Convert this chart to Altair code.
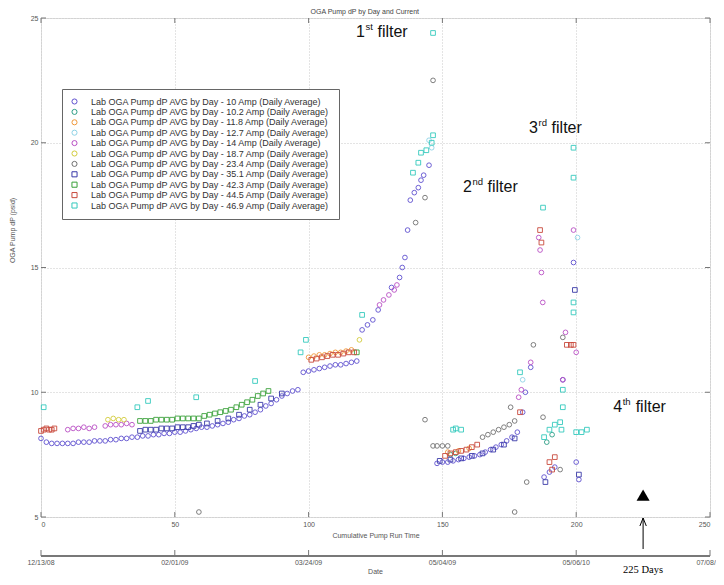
import altair as alt
import pandas as pd

# ---------------- data ----------------
series_labels = [
    "Lab OGA Pump dP AVG by Day - 10 Amp (Daily Average)",
    "Lab OGA Pump dP AVG by Day - 10.2 Amp (Daily Average)",
    "Lab OGA Pump dP AVG by Day - 11.8 Amp (Daily Average)",
    "Lab OGA Pump dP AVG by Day - 12.7 Amp (Daily Average)",
    "Lab OGA Pump dP AVG by Day - 14 Amp (Daily Average)",
    "Lab OGA Pump dP AVG by Day - 18.7 Amp (Daily Average)",
    "Lab OGA Pump dP AVG by Day - 23.4 Amp (Daily Average)",
    "Lab OGA Pump dP AVG by Day - 35.1 Amp (Daily Average)",
    "Lab OGA Pump dP AVG by Day - 42.3 Amp (Daily Average)",
    "Lab OGA Pump dP AVG by Day - 44.5 Amp (Daily Average)",
    "Lab OGA Pump dP AVG by Day - 46.9 Amp (Daily Average)",
]
series_colors = ["#5f50cf", "#2e9e86", "#f0983a", "#8fd3e6", "#b94fc4", "#d2cc3c",
                 "#707070", "#3a3aa8", "#3aa03a", "#c84a3c", "#34c9bd"]
series_shapes = ["circle"] * 7 + ["square"] * 4

a10_days = [0, 2, 4, 6, 8, 10, 12, 14, 16, 18, 20, 22, 24, 26, 28, 30, 32, 34, 36, 38,
            40, 42, 44, 46, 48, 50, 52, 54, 56, 58, 60, 62, 64, 66, 68, 70, 72, 74, 76, 78,
            80, 82, 84, 86, 88, 90, 92, 94, 96,
            98, 100, 102, 104, 106, 108, 110, 112, 114, 116, 118,
            120, 122, 124, 126, 131, 134, 135, 136, 137, 138, 139.5, 141, 142, 143, 145,
            148, 150, 152, 154, 156, 158, 160, 162, 164, 166, 168, 170, 172, 174, 176, 178,
            180, 181, 183, 188, 190, 192, 195, 199, 200, 201]
a10_vals = [8.15, 8.0, 7.95, 7.95, 7.95, 7.95, 7.95, 8.0, 8.0, 8.0, 8.05, 8.05, 8.05, 8.1, 8.1,
            8.15, 8.15, 8.2, 8.2, 8.25, 8.25, 8.3, 8.3, 8.35, 8.35, 8.4, 8.4, 8.45, 8.5, 8.55,
            8.6, 8.6, 8.65, 8.7, 8.75, 8.8, 8.9, 8.95, 9.05, 9.1, 9.2, 9.3, 9.45, 9.55, 9.7,
            9.85, 9.95, 10.05, 10.1,
            10.8, 10.85, 10.9, 10.95, 11.0, 11.05, 11.1, 11.1, 11.15, 11.2, 11.25,
            12.5, 12.7, 12.9, 13.3, 14.2, 14.6, 15.0, 15.4, 16.5, 17.7, 18.0, 18.2, 18.5, 18.7, 19.1,
            7.15, 7.2, 7.2, 7.25, 7.3, 7.35, 7.4, 7.45, 7.5, 7.6, 7.7, 7.8, 7.9, 8.05, 8.2, 8.4,
            9.2, 10.0, 11.0, 6.6, 6.8, 7.0, 10.5, 15.2, 7.2, 6.5]

a102_days = [153, 155, 189, 191]
a102_vals = [7.5, 7.55, 8.0, 8.3]

a118_days = [100, 102, 104, 106, 108, 110, 112, 114, 116, 152, 156, 160]
a118_vals = [11.4, 11.45, 11.5, 11.5, 11.55, 11.6, 11.6, 11.65, 11.7, 7.6, 7.65, 7.75]

a127_days = [145, 146, 180, 200.5]
a127_vals = [20.1, 19.8, 10.5, 16.2]

a14_days = [10, 12, 14, 16, 18, 20, 24, 26, 28, 30, 32, 34,
            126.5, 128, 130, 132, 133, 178.5, 179.5, 183, 186, 186.5, 187, 187.5,
            195, 196, 199, 200]
a14_vals = [8.5, 8.55, 8.55, 8.6, 8.55, 8.6, 8.65, 8.7, 8.7, 8.7, 8.75, 8.7,
            13.5, 13.7, 13.9, 14.1, 14.3, 9.8, 10.1, 11.2, 16.2, 15.7, 14.8, 13.6,
            10.5, 12.4, 16.5, 11.6]

a187_days = [25, 27, 29, 31, 119]
a187_vals = [8.9, 8.95, 8.9, 8.9, 12.1]

a234_days = [59, 177, 143.5, 140, 143.5, 146.5, 146.5, 148, 150, 152,
             165, 167, 169, 171, 173, 175, 177, 175.5, 181.5, 184, 187.6, 194, 195]
a234_vals = [5.2, 5.2, 8.9, 16.8, 17.8, 22.5, 7.85, 7.85, 7.85, 7.85,
             8.2, 8.3, 8.4, 8.5, 8.6, 8.7, 8.85, 9.4, 6.4, 11.9, 9.0, 6.9, 12.2]

a351_days = [37, 39, 41, 43, 45, 47, 49, 51, 53, 55, 57, 59, 62, 66, 70, 74, 78, 82, 86, 90,
             149, 153, 157, 161, 165, 169, 173, 177, 188.5, 199.5, 201]
a351_vals = [8.45, 8.5, 8.5, 8.5, 8.55, 8.55, 8.55, 8.6, 8.6, 8.6, 8.65, 8.7,
             8.75, 8.85, 8.95, 9.1, 9.3, 9.5, 9.75, 9.95,
             7.25, 7.3, 7.35, 7.45, 7.55, 7.7, 7.9, 8.15, 6.4, 14.1, 6.7]

a423_days = [37, 39, 41, 43, 45, 47, 49, 51, 53, 55, 57, 59, 61, 63, 65, 67, 69, 71, 73, 75,
             77, 79, 81, 83, 85, 118]
a423_vals = [8.85, 8.85, 8.85, 8.9, 8.9, 8.9, 8.9, 8.95, 8.95, 8.95, 8.95, 8.95, 9.05, 9.1,
             9.15, 9.2, 9.25, 9.3, 9.4, 9.5, 9.6, 9.7, 9.85, 9.95, 10.05, 11.6]

a445_days = [0, 1, 2, 3, 4, 5, 101, 103, 105, 107, 109, 111, 113, 115, 117,
             151, 153, 155, 157, 159, 161, 163, 179, 186.5, 187, 196.5, 198, 199, 190, 191, 192]
a445_vals = [8.45, 8.5, 8.55, 8.5, 8.5, 8.55, 11.3, 11.35, 11.4, 11.45, 11.5, 11.5, 11.55,
             11.6, 11.6, 7.45, 7.55, 7.6, 7.65, 7.7, 7.8, 7.9, 9.2, 16.5, 16.0, 11.9, 11.9,
             11.9, 7.2, 6.9, 7.4]

a469_days = [1, 36, 40, 58, 80, 97, 99, 120, 139, 141, 142, 144, 146, 146.5, 146.5,
             154, 155, 157, 179, 187.6, 188, 190, 192, 194, 199, 199, 199, 199,
             200, 202, 204, 195, 195, 194.5]
a469_vals = [9.4, 9.4, 9.65, 9.8, 10.45, 11.6, 12.1, 13.1, 18.8, 19.2, 19.6, 19.7, 20.0,
             20.3, 24.4, 8.5, 8.55, 8.5, 10.8, 17.4, 8.2, 8.5, 8.7, 8.8, 19.8, 18.6, 13.6,
             13.2, 8.4, 8.4, 8.5, 10.1, 9.4, 8.5]

run_ticks = [0, 50, 100, 150, 200, 250]
date_labels = ["12/13/08", "02/01/09", "03/24/09", "05/04/09", "05/06/10", "07/08/10"]
dp_ticks = [5, 10, 15, 20, 25]

filter_digits = ["1", "2", "3", "4"]
filter_sups = ["st", "nd", "rd", "th"]
filter_day = [117.7, 157.7, 182.4, 213.8]
filter_dp = [24.24, 18.03, 20.39, 9.21]

marker_day = [225]
marker_dp = [5.88]

chart_title = "OGA Pump dP by Day and Current"

# ---------------- build tables ----------------
all_days = [a10_days, a102_days, a118_days, a127_days, a14_days, a187_days,
            a234_days, a351_days, a423_days, a445_days, a469_days]
all_vals = [a10_vals, a102_vals, a118_vals, a127_vals, a14_vals, a187_vals,
            a234_vals, a351_vals, a423_vals, a445_vals, a469_vals]
rows = []
for name, ds, vs in zip(series_labels, all_days, all_vals):
    for d, v in zip(ds, vs):
        rows.append({"series": name, "day": d, "dp": v})
df = pd.DataFrame(rows)

PX_PER_DAY = 669 / 250.0
sup_w = {"st": 8, "nd": 11, "rd": 9, "th": 9}
annot = pd.DataFrame({
    "digit": filter_digits, "sup": filter_sups,
    "day": filter_day, "dp": filter_dp,
})
annot["sup_day"] = annot["day"] + 9.5 / PX_PER_DAY
annot["word_day"] = annot["day"] + annot["sup"].map(lambda s: (9.5 + sup_w[s] + 4) / PX_PER_DAY)
annot["word"] = "filter"

dates = pd.DataFrame({"day": run_ticks, "label": date_labels})
yt = pd.DataFrame({"dp": dp_ticks})
mk = pd.DataFrame({"day": marker_day, "dp": marker_dp, "txt": ["225 Days"]})
ttl = pd.DataFrame({"day": [121], "txt": [chart_title]})

FONT = "Liberation Sans"
GREY = "#555555"

xscale = alt.Scale(domain=[0, 250], nice=False, zero=False)
yscale = alt.Scale(domain=[5, 25], nice=False, zero=False)

legend = alt.Legend(orient="none", legendX=21, legendY=71, fillColor="white",
                    strokeColor="#666666", padding=8, labelFontSize=9, labelFont=FONT,
                    labelColor="#333333", symbolSize=26, symbolStrokeWidth=1,
                    labelLimit=500, rowPadding=-0.6, labelOffset=12)

points = alt.Chart(df).mark_point(filled=False, size=22, strokeWidth=0.9, opacity=1).encode(
    x=alt.X("day:Q", scale=xscale,
            axis=alt.Axis(values=run_ticks, title="Cumulative Pump Run Time", grid=True,
                          gridColor="#c8c8c8", gridDash=[1, 2], ticks=False, domain=False,
                          labelFontSize=7, labelColor=GREY, labelFont=FONT, labelPadding=3,
                          titleFontSize=7, titleFontWeight="normal", titleColor=GREY,
                          titleFont=FONT, titlePadding=4)),
    y=alt.Y("dp:Q", scale=yscale,
            axis=alt.Axis(values=dp_ticks, title="OGA Pump dP (psid)", grid=True,
                          gridColor="#c8c8c8", gridDash=[1, 2], ticks=False, domain=False,
                          labelFontSize=7, labelColor=GREY, labelFont=FONT, labelPadding=3,
                          titleFontSize=7, titleFontWeight="normal", titleColor=GREY,
                          titleFont=FONT, titleX=-26, titleY=212)),
    color=alt.Color("series:N", scale=alt.Scale(domain=series_labels, range=series_colors),
                    legend=legend, title=None),
    shape=alt.Shape("series:N", scale=alt.Scale(domain=series_labels, range=series_shapes),
                    legend=legend, title=None),
)

# inward ticks on all four sides
xt_bottom = alt.Chart(dates).mark_rule(color="#777777").encode(
    x=alt.X("day:Q", scale=xscale), y=alt.value(499), y2=alt.value(494))
xt_top = alt.Chart(dates).mark_rule(color="#777777").encode(
    x=alt.X("day:Q", scale=xscale), y=alt.value(0), y2=alt.value(5))
yt_left = alt.Chart(yt).mark_rule(color="#777777").encode(
    y=alt.Y("dp:Q", scale=yscale), x=alt.value(0), x2=alt.value(5))
yt_right = alt.Chart(yt).mark_rule(color="#777777").encode(
    y=alt.Y("dp:Q", scale=yscale), x=alt.value(669), x2=alt.value(664))

# chart title as text
title_text = alt.Chart(ttl).mark_text(fontSize=7, color="#444444", font=FONT,
                                      baseline="middle").encode(
    x=alt.X("day:Q", scale=xscale), y=alt.value(-6), text="txt:N")

# secondary date axis
date_line = alt.Chart(dates).mark_rule(color="#777777").encode(
    x=alt.datum(0), x2=alt.datum(250), y=alt.value(538))
date_ticks = alt.Chart(dates).mark_rule(color="#777777").encode(
    x=alt.X("day:Q", scale=xscale), y=alt.value(532), y2=alt.value(538))
date_text = alt.Chart(dates).mark_text(fontSize=7, color=GREY, font=FONT, baseline="top").encode(
    x=alt.X("day:Q", scale=xscale), y=alt.value(541), text="label:N")
date_title = alt.Chart(mk).mark_text(fontSize=7, color=GREY, font=FONT, baseline="top").encode(
    x=alt.datum(125), y=alt.value(550), text=alt.value("Date"))

# filter annotations
ann_digit = alt.Chart(annot).mark_text(fontSize=16, font=FONT, color="#111111", align="left",
                                        baseline="alphabetic").encode(
    x=alt.X("day:Q", scale=xscale), y=alt.Y("dp:Q", scale=yscale), text="digit:N")
ann_sup = alt.Chart(annot).mark_text(fontSize=9.5, font=FONT, color="#111111", align="left",
                                      baseline="alphabetic", dy=-7).encode(
    x=alt.X("sup_day:Q", scale=xscale), y=alt.Y("dp:Q", scale=yscale), text="sup:N")
ann_word = alt.Chart(annot).mark_text(fontSize=16, font=FONT, color="#111111", align="left",
                                       baseline="alphabetic").encode(
    x=alt.X("word_day:Q", scale=xscale), y=alt.Y("dp:Q", scale=yscale), text="word:N")

# 225 days marker
tri = alt.Chart(mk).mark_point(shape="triangle-up", filled=True, color="black", size=170,
                               opacity=1).encode(
    x=alt.X("day:Q", scale=xscale), y=alt.Y("dp:Q", scale=yscale))
arrow = alt.Chart(mk).mark_rule(color="black", strokeWidth=1).encode(
    x=alt.X("day:Q", scale=xscale), y=alt.value(500), y2=alt.value(531))
arrow_head = alt.Chart(mk).mark_point(shape="M-0.8,2 L0,0 L0.8,2", filled=False, color="black",
                                      size=64, strokeWidth=1, opacity=1).encode(
    x=alt.X("day:Q", scale=xscale), y=alt.value(500))
days_text = alt.Chart(mk).mark_text(fontSize=10.5, font="Liberation Serif", color="black",
                                     baseline="middle").encode(
    x=alt.X("day:Q", scale=xscale), y=alt.value(552), text="txt:N")

chart = alt.layer(
    xt_bottom, xt_top, yt_left, yt_right,
    points, title_text,
    date_line, date_ticks, date_text, date_title,
    ann_digit, ann_sup, ann_word,
    tri, arrow, arrow_head, days_text,
).properties(
    width=669, height=499,
    padding={"left": 33, "top": 10, "right": 6, "bottom": 60},
    autosize=alt.AutoSizeParams(type="none"),
).configure_view(
    stroke="#777777", strokeWidth=1
).configure(background="white")

chart.save("out.html", embed_options={"renderer": "svg", "actions": False})
